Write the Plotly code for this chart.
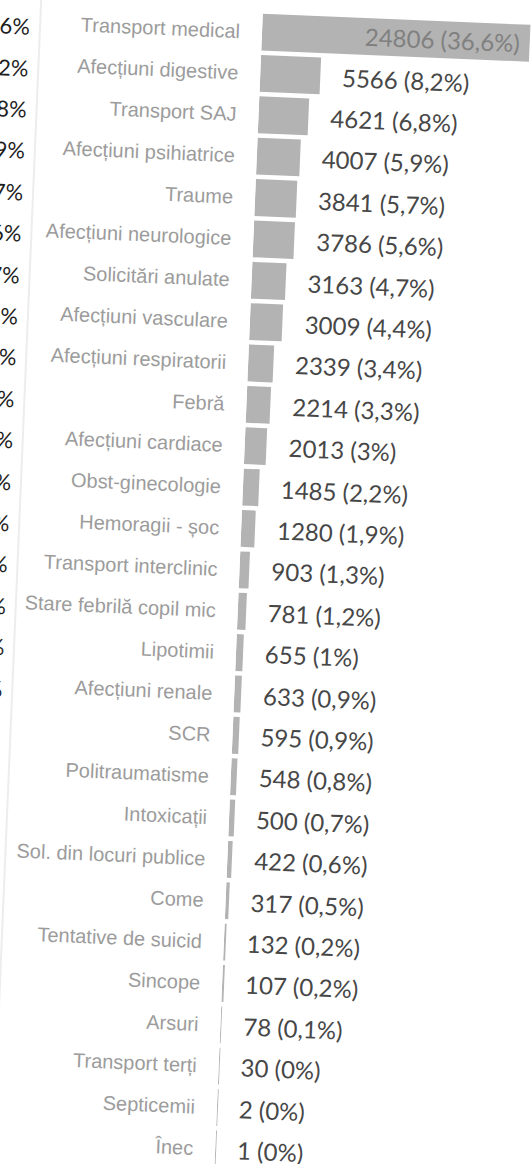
import plotly.graph_objects as go

CATEGORIES = [
    "Transport medical", "Afecțiuni digestive", "Transport SAJ",
    "Afecțiuni psihiatrice", "Traume", "Afecțiuni neurologice",
    "Solicitări anulate", "Afecțiuni vasculare", "Afecțiuni respiratorii",
    "Febră", "Afecțiuni cardiace", "Obst-ginecologie", "Hemoragii - șoc",
    "Transport interclinic", "Stare febrilă copil mic", "Lipotimii",
    "Afecțiuni renale", "SCR", "Politraumatisme", "Intoxicații",
    "Sol. din locuri publice", "Come", "Tentative de suicid", "Sincope",
    "Arsuri", "Transport terți", "Septicemii", "Înec",
]
COUNTS = [
    24806, 5566, 4621, 4007, 3841, 3786, 3163, 3009, 2339, 2214, 2013,
    1485, 1280, 903, 781, 655, 633, 595, 548, 500, 422, 317, 132, 107,
    78, 30, 2, 1,
]
PERCENTS = [
    "36,6", "8,2", "6,8", "5,9", "5,7", "5,6", "4,7", "4,4", "3,4", "3,3",
    "3", "2,2", "1,9", "1,3", "1,2", "1", "0,9", "0,9", "0,8", "0,7",
    "0,6", "0,5", "0,2", "0,2", "0,1", "0", "0", "0",
]

# the scan is a bit larger than the page and tilted; pad the figure and
# rotate it in the page so the viewport crops it like the photo
PAD = 40
W, H = 532 + 2 * PAD, 1164 + 2 * PAD
PLOT_L = 239 + PAD
PLOT_W = 293
ROW = 41.4
TOP = 52
VALUE_FONT = "Lato, Open Sans, sans-serif"

fig = go.Figure(
    go.Bar(
        x=COUNTS,
        y=CATEGORIES,
        orientation="h",
        marker=dict(color="#b3b3b3", line=dict(width=0)),
        hoverinfo="skip",
    )
)

# value labels: the biggest one sits inside its bar, the rest after the bar
for i, (cat, c, p) in enumerate(zip(CATEGORIES, COUNTS, PERCENTS)):
    inside = i == 0
    fig.add_annotation(
        x=c, y=cat, xref="x", yref="y",
        xanchor="right" if inside else "left",
        xshift=-8 if inside else 20,
        text=f"{c} ({p}%)", showarrow=False,
        font=dict(family=VALUE_FONT, size=24,
                  color="#808080" if inside else "#474747"),
    )

# percentages of the neighbouring chart, cut off at the left edge of the scan
for i, p in enumerate(PERCENTS):
    fig.add_annotation(
        x=(PAD + 9 - PLOT_L) / PLOT_W, xref="paper", xanchor="right",
        y=i, yref="y", yshift=-4,
        text=f"{p}%", showarrow=False,
        font=dict(family=VALUE_FONT, size=22, color="#1e1e1e"),
    )

# faint page gutter line
fig.add_shape(
    type="line", xref="paper", yref="paper",
    x0=(PAD + 17 - PLOT_L) / PLOT_W, x1=(PAD + 17 - PLOT_L) / PLOT_W,
    y0=-0.05, y1=1.05,
    line=dict(color="#ededed", width=2),
)

n_rows = (H - TOP) / ROW
fig.update_layout(
    width=W,
    height=H,
    margin=dict(l=PLOT_L, r=W - PLOT_L - PLOT_W, t=TOP, b=0, pad=0),
    paper_bgcolor="white",
    plot_bgcolor="white",
    showlegend=False,
    bargap=0.11,
    xaxis=dict(visible=False, range=[0, PLOT_W / 0.0108], fixedrange=True),
    yaxis=dict(
        type="category",
        categoryorder="array",
        categoryarray=CATEGORIES,
        range=[n_rows - 0.5, -0.5],
        showgrid=False,
        zeroline=False,
        showline=False,
        ticks="",
        ticklabelstandoff=21,
        tickfont=dict(family="Liberation Sans, Arial, sans-serif", size=20, color="#9c9c9c"),
        fixedrange=True,
    ),
)

post = """
var gd = document.getElementById('{plot_id}');
document.body.style.margin = '0';
document.body.style.overflow = 'hidden';
gd.style.position = 'absolute';
gd.style.left = '-%dpx';
gd.style.top = '-%dpx';
gd.style.transformOrigin = '50%% 50%%';
gd.style.transform = 'rotate(2.4deg)';
""" % (PAD, PAD)

fig.write_html("out.html", config={"displayModeBar": False}, post_script=post)
